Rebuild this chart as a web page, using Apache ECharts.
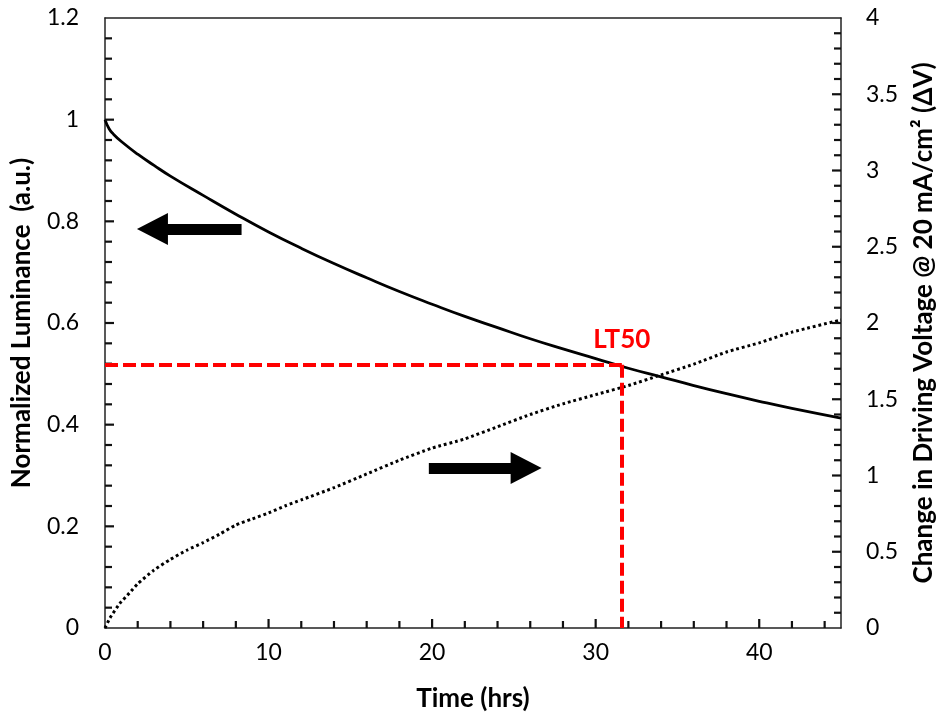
<!DOCTYPE html>
<html>
<head>
<meta charset="utf-8">
<script src="https://cdn.jsdelivr.net/npm/echarts@6/dist/echarts.min.js"></script>
<style>
  html, body { margin: 0; padding: 0; background: #fff; }
  #chart { width: 945px; height: 723px; }
</style>
</head>
<body>
<div id="chart"></div>
<script>
// luminance decay (left axis)
var timeL = [0, 0.25, 0.5, 1, 2, 3, 4, 6, 8, 10, 12, 14, 16, 18, 20, 22, 24, 26, 28, 30, 32, 34, 36, 38, 40, 42, 45];
var lumi = [1.0, 0.982, 0.972, 0.957, 0.932, 0.91, 0.889, 0.851, 0.814, 0.779, 0.747, 0.717, 0.689, 0.662, 0.637, 0.613, 0.591, 0.569, 0.549, 0.530, 0.511, 0.494, 0.477, 0.461, 0.446, 0.432, 0.413];

// voltage rise (right axis)
var timeV = [0, 0.3, 0.9, 1.5, 2, 3, 4, 5, 6, 7, 8, 9, 10, 11, 12, 14, 16, 18, 20, 22, 24, 26, 28, 30, 32, 34, 36, 38, 40, 42, 45];
var dV = [0, 0.065, 0.16, 0.23, 0.29, 0.38, 0.45, 0.51, 0.56, 0.615, 0.675, 0.715, 0.755, 0.80, 0.84, 0.92, 1.01, 1.10, 1.18, 1.24, 1.32, 1.40, 1.47, 1.53, 1.59, 1.66, 1.73, 1.81, 1.87, 1.94, 2.02];

// tick positions (major + minor), all pointing into the plot
var xTicks = [2, 4, 6, 8, 10, 12, 14, 16, 18, 20, 22, 24, 26, 28, 30, 32, 34, 36, 38, 40, 42, 44];
var leftTicks = [0.04, 0.08, 0.12, 0.16, 0.2, 0.24, 0.28, 0.32, 0.36, 0.4, 0.44, 0.48, 0.52, 0.56, 0.6,
  0.64, 0.68, 0.72, 0.76, 0.8, 0.84, 0.88, 0.92, 0.96, 1.0, 1.04, 1.08, 1.12, 1.16];
var rightTicks = [0.1, 0.2, 0.3, 0.4, 0.5, 0.6, 0.7, 0.8, 0.9, 1.0, 1.1, 1.2, 1.3, 1.4, 1.5, 1.6, 1.7, 1.8, 1.9, 2.0,
  2.1, 2.2, 2.3, 2.4, 2.5, 2.6, 2.7, 2.8, 2.9, 3.0, 3.1, 3.2, 3.3, 3.4, 3.5, 3.6, 3.7, 3.8, 3.9];

// LT50 marker and direction arrows
var lt50 = { t: 31.6, lum: 0.518 };
var arrowLeft = { from: 8.35, to: 2.9, lum: 0.785 };
var arrowRight = { from: 19.8, to: 25.75, lum: 0.315 };

var font = 'Lato, "Open Sans", sans-serif';
var axisColor = '#222';
var X_MAX = 45;

function pairs(xs, ys) {
  return xs.map(function (x, i) { return [x, ys[i]]; });
}

function isMajor(v, step) {
  return Math.abs(v / step - Math.round(v / step)) < 1e-6;
}

// side: 'bottom' | 'left' | 'right'; step = major interval
function tickRenderer(side, step) {
  return function (params, api) {
    var v = side === 'bottom' ? api.value(0) : api.value(1);
    var p = api.coord([api.value(0), api.value(1)]);
    var len = isMajor(v, step) ? 9 : 7;
    var dx = 0, dy = 0;
    if (side === 'bottom') dy = -len;
    else if (side === 'left') dx = len;
    else dx = -len;
    return {
      type: 'line',
      shape: { x1: p[0], y1: p[1], x2: p[0] + dx, y2: p[1] + dy },
      style: { stroke: '#111', lineWidth: 2.2 }
    };
  };
}

function tickSeries(side, step, data, yIndex) {
  return {
    type: 'custom',
    silent: true,
    yAxisIndex: yIndex,
    z: 4,
    renderItem: tickRenderer(side, step),
    data: data
  };
}

var nameStyle = { fontSize: 26, fontWeight: 'bold', color: '#000', fontFamily: font };
var axisLine = { show: true, onZero: false, lineStyle: { color: axisColor, width: 1.5 } };

var chart = echarts.init(document.getElementById('chart'));
chart.setOption({
  animation: false,
  textStyle: { fontFamily: font },
  grid: {
    left: 105, right: 102, top: 18, bottom: 95
  },
  xAxis: [{
    type: 'value',
    min: 0, max: X_MAX, interval: 10,
    name: 'Time (hrs)',
    nameLocation: 'middle',
    nameGap: 58,
    nameTextStyle: nameStyle,
    axisLine: axisLine,
    axisTick: { show: false },
    axisLabel: { fontSize: 23, color: '#000', margin: 13, fontFamily: font, showMaxLabel: false },
    splitLine: { show: false }
  }, {
    // top frame line only
    type: 'value',
    position: 'top',
    min: 0, max: X_MAX,
    axisLine: axisLine,
    axisTick: { show: false },
    axisLabel: { show: false },
    splitLine: { show: false }
  }],
  yAxis: [{
    type: 'value',
    min: 0, max: 1.2, interval: 0.2,
    position: 'left',
    name: 'Normalized Luminance  (a.u.)',
    nameLocation: 'middle',
    nameRotate: 90,
    nameGap: 70,
    nameTextStyle: nameStyle,
    axisLine: axisLine,
    axisTick: { show: false },
    axisLabel: { fontSize: 23, color: '#000', margin: 26, fontFamily: font },
    splitLine: { show: false }
  }, {
    type: 'value',
    min: 0, max: 4, interval: 0.5,
    position: 'right',
    name: 'Change in Driving Voltage @ 20 mA/cm² (ΔV)',
    nameLocation: 'middle',
    nameRotate: 90,
    nameGap: 70,
    nameTextStyle: nameStyle,
    axisLine: axisLine,
    axisTick: { show: false },
    axisLabel: { fontSize: 23, color: '#000', margin: 25, fontFamily: font },
    splitLine: { show: false }
  }],
  series: [{
    name: 'Luminance',
    type: 'line',
    yAxisIndex: 0,
    data: pairs(timeL, lumi),
    smooth: true,
    showSymbol: false,
    lineStyle: { color: '#000', width: 2.8 },
    z: 3,
    markLine: {
      silent: true,
      symbol: 'none',
      z: 5,
      label: { show: false },
      lineStyle: { color: '#ff0000', width: 4, type: [13, 5] },
      data: [
        [{ coord: [0, lt50.lum] }, { coord: [lt50.t, lt50.lum] }],
        [{ coord: [lt50.t, lt50.lum] }, { coord: [lt50.t, 0] }]
      ]
    },
    markPoint: {
      silent: true,
      symbol: 'circle',
      symbolSize: 0,
      label: {
        show: true,
        formatter: 'LT50',
        color: '#ff0000',
        fontSize: 26,
        fontWeight: 'bold',
        fontFamily: font,
        position: 'inside'
      },
      data: [{ coord: [lt50.t, 0.567] }]
    }
  }, {
    name: 'Voltage',
    type: 'line',
    yAxisIndex: 1,
    data: pairs(timeV, dV),
    smooth: 0.2,
    showSymbol: false,
    lineStyle: { color: '#000', width: 3, type: [2.8, 2.9] },
    z: 2
  }, {
    // arrows drawn as thick mark lines with triangle heads
    name: 'Arrows',
    type: 'line',
    yAxisIndex: 0,
    data: [],
    markLine: {
      silent: true,
      symbol: ['none', 'triangle'],
      symbolSize: [32, 31],
      label: { show: false },
      lineStyle: { color: '#000', width: 11, type: 'solid' },
      data: [
        [{ coord: [arrowLeft.from, arrowLeft.lum] }, { coord: [arrowLeft.to, arrowLeft.lum] }],
        [{ coord: [arrowRight.from, arrowRight.lum] }, { coord: [arrowRight.to, arrowRight.lum] }]
      ]
    }
  },
  tickSeries('bottom', 10, xTicks.map(function (v) { return [v, 0]; }), 0),
  tickSeries('left', 0.2, leftTicks.map(function (v) { return [0, v]; }), 0),
  tickSeries('right', 0.5, rightTicks.map(function (v) { return [X_MAX, v]; }), 1)
  ]
});
</script>
</body>
</html>
